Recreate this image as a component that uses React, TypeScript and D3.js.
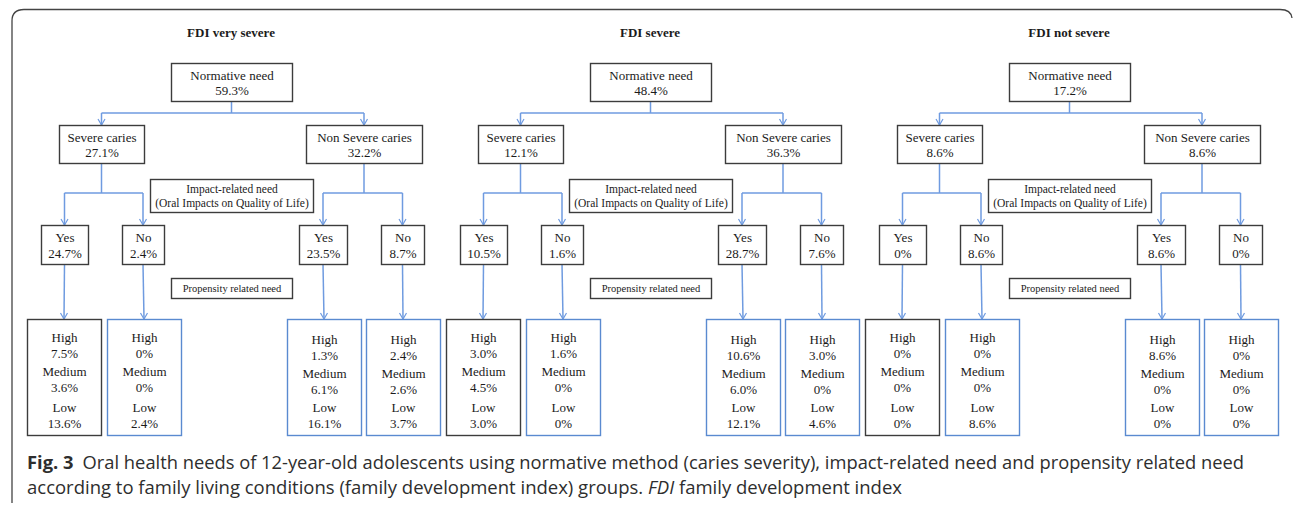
import React, { useRef, useEffect } from 'react';
import * as d3 from 'd3';

// groups (one tree per family development index level)
const groups = ['FDI very severe', 'FDI severe', 'FDI not severe'];
const normativeNeed = [59.3, 48.4, 17.2];
const severeCaries = [27.1, 12.1, 8.6];
const nonSevereCaries = [32.2, 36.3, 8.6];
// impact-related need (yes / no) under each caries branch
const severeYes = [24.7, 10.5, 0];
const severeNo = [2.4, 1.6, 8.6];
const nonSevereYes = [23.5, 28.7, 8.6];
const nonSevereNo = [8.7, 7.6, 0];
// propensity related need, leaves ordered: severe-yes, severe-no, nonsevere-yes, nonsevere-no
const propensityHigh = [[7.5, 0, 1.3, 2.4], [3.0, 1.6, 10.6, 3.0], [0, 0, 8.6, 0]];
const propensityMedium = [[3.6, 0, 6.1, 2.6], [4.5, 0, 6.0, 0], [0, 0, 0, 0]];
const propensityLow = [[13.6, 2.4, 16.1, 3.7], [3.0, 0, 12.1, 4.6], [0, 8.6, 0, 0]];

const BOX = '#3c3c3c';
const BLUE = '#5a8ad0';
const LINE = '#6f9be0';
const TXT = '#1b1b1b';
const SERIF = '"Liberation Serif", "Times New Roman", serif';

const App = () => {
  const svgRef = useRef(null);

  useEffect(() => {
    const svg = d3.select(svgRef.current);
    svg.selectAll('*').remove();

    const fmt = (v) => (v === 0 ? '0%' : d3.format('.1f')(v) + '%');
    const panelX = d3.scalePoint().domain(groups).range([0, 838]);

    // outer frame: left side, top edge and the top-right corner only
    svg.append('path')
      .attr('d', 'M12,503 Q12,498 12,490 L12,21 Q12,9.5 24,9.5 L1280,9.5 Q1291,9.5 1292,18')
      .style('fill', 'none').style('stroke', '#444').style('stroke-width', 1.3);

    const drawBox = (g, x, y, w, h, color, lines, fontSize) => {
      g.append('rect')
        .attr('x', x + 0.5).attr('y', y + 0.5)
        .attr('width', w).attr('height', h)
        .style('fill', '#fff').style('stroke', color).style('stroke-width', 1.4);
      lines.forEach((l) => {
        g.append('text')
          .attr('x', x + w / 2 + 0.5)
          .attr('y', y + l.dy)
          .attr('dy', '.35em')
          .attr('text-anchor', 'middle')
          .style('font-family', SERIF)
          .style('font-size', `${fontSize}px`)
          .style('fill', TXT)
          .text(l.text);
      });
    };

    const arrow = (g, x, y) => {
      g.append('path')
        .attr('d', `M${x - 3.5},${y - 6} L${x},${y} L${x + 3.5},${y - 6}`)
        .style('fill', 'none').style('stroke', LINE).style('stroke-width', 1.2);
    };

    const line = (g, pts) => {
      g.append('path')
        .attr('d', d3.line()(pts))
        .style('fill', 'none').style('stroke', LINE).style('stroke-width', 1.5);
    };

    groups.forEach((name, i) => {
      const g = svg.append('g').attr('transform', `translate(${panelX(name)},0)`);

      g.append('text')
        .attr('x', 231).attr('y', 32).attr('dy', '.35em')
        .attr('text-anchor', 'middle')
        .style('font-family', SERIF).style('font-weight', 'bold')
        .style('font-size', '13px').style('fill', TXT)
        .text(name);

      // level boxes: [x, width] in panel coordinates
      const norm = { x: 171, w: 121 };
      const sev = { x: 59, w: 85 };
      const non = { x: 306, w: 116 };
      const imp = [{ x: 41, w: 47 }, { x: 122, w: 42 }, { x: 299, w: 48 }, { x: 381, w: 43 }];
      const leaf = [27, 107, 287, 366];
      const cx = (b) => b.x + b.w / 2;

      // connectors
      line(g, [[cx(norm), 101], [cx(norm), 113]]);
      line(g, [[cx(sev), 113], [cx(non), 113]]);
      line(g, [[cx(sev), 113], [cx(sev), 125]]);
      line(g, [[cx(non), 113], [cx(non), 125]]);
      arrow(g, cx(sev), 125);
      arrow(g, cx(non), 125);

      [[sev, imp[0], imp[1]], [non, imp[2], imp[3]]].forEach(([p, a, b]) => {
        line(g, [[cx(p), 163], [cx(p), 193]]);
        line(g, [[cx(a), 193], [cx(b), 193]]);
        line(g, [[cx(a), 193], [cx(a), 225]]);
        line(g, [[cx(b), 193], [cx(b), 225]]);
        arrow(g, cx(a), 225);
        arrow(g, cx(b), 225);
      });

      imp.forEach((b, j) => {
        line(g, [[cx(b), 264], [leaf[j] + 37, 319]]);
        arrow(g, leaf[j] + 37, 319);
      });

      drawBox(g, norm.x, 63, norm.w, 38, BOX,
        [{ text: 'Normative need', dy: 12 }, { text: fmt(normativeNeed[i]), dy: 27 }], 13);
      drawBox(g, sev.x, 125, sev.w, 38, BOX,
        [{ text: 'Severe caries', dy: 12 }, { text: fmt(severeCaries[i]), dy: 27 }], 13);
      drawBox(g, non.x, 125, non.w, 38, BOX,
        [{ text: 'Non Severe caries', dy: 12 }, { text: fmt(nonSevereCaries[i]), dy: 27 }], 13);

      drawBox(g, 150, 179, 163, 33, BOX,
        [{ text: 'Impact-related need', dy: 10 }, { text: '(Oral Impacts on Quality of Life)', dy: 24 }], 11.5);

      const impVals = [severeYes[i], severeNo[i], nonSevereYes[i], nonSevereNo[i]];
      imp.forEach((b, j) => {
        drawBox(g, b.x, 225, b.w, 39, BOX,
          [{ text: j % 2 === 0 ? 'Yes' : 'No', dy: 12 }, { text: fmt(impVals[j]), dy: 28 }], 13);
      });

      drawBox(g, 171, 278, 121, 20, BOX, [{ text: 'Propensity related need', dy: 10 }], 10.5);

      leaf.forEach((x, j) => {
        // the non severe leaves sit a little lower in their boxes
        const sh = j >= 2 ? 2 : 0;
        drawBox(g, x, 319, 74, 116, j === 0 ? BOX : BLUE, [
          { text: 'High', dy: 18 + sh },
          { text: fmt(propensityHigh[i][j]), dy: 34 + sh },
          { text: 'Medium', dy: 52 + sh },
          { text: fmt(propensityMedium[i][j]), dy: 68 + sh },
          { text: 'Low', dy: 88 },
          { text: fmt(propensityLow[i][j]), dy: 104 },
        ], 13);
      });
    });

    // caption
    const cap1 = svg.append('text')
      .attr('x', 27).attr('y', 469)
      .attr('textLength', 1217).attr('lengthAdjust', 'spacingAndGlyphs')
      .style('font-family', '"Open Sans", sans-serif').style('font-size', '18px').style('fill', '#2e2e2e');
    cap1.append('tspan').style('font-weight', 'bold').text('Fig. 3');
    cap1.append('tspan').text('\u2002Oral health needs of 12-year-old adolescents using normative method (caries severity), impact-related need and propensity related need');

    const cap2 = svg.append('text')
      .attr('x', 27).attr('y', 494)
      .attr('textLength', 875).attr('lengthAdjust', 'spacingAndGlyphs')
      .style('font-family', '"Open Sans", sans-serif').style('font-size', '18px').style('fill', '#2e2e2e');
    cap2.append('tspan').text('according to family living conditions (family development index) groups. ');
    cap2.append('tspan').style('font-style', 'italic').text('FDI');
    cap2.append('tspan').text(' family development index');
  }, []);

  return (
    <svg ref={svgRef} width={1295} height={505}
      style={{ position: 'absolute', left: 0, top: 0, background: '#fff' }} />
  );
};

export default App;
